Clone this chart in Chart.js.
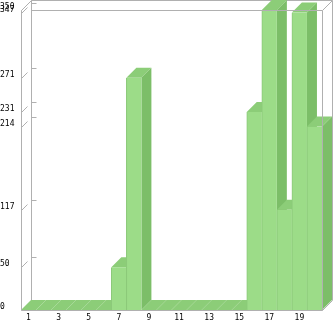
<!DOCTYPE html>
<html>
<head>
<meta charset="utf-8">
<script src="https://cdn.jsdelivr.net/npm/chart.js@4/dist/chart.umd.min.js"></script>
<style>
  html, body { margin: 0; padding: 0; background: #ffffff; }
  #c { display: block; }
</style>
</head>
<body>
<canvas id="c" width="333" height="321"></canvas>
<script>
const categories = ['1','2','3','4','5','6','7','8','9','10','11','12','13','14','15','16','17','18','19','20'];
const values = [0,0,0,0,0,0,50,271,0,0,0,0,0,0,0,231,350,117,347,214];
const yTickValues = [0,50,117,214,231,271,347,350];

const FRONT = '#9cdc88';
const TOP = '#8ccd78';
const SIDE = '#7cbe68';
const EDGE = '#8cc97a';
const FRAME = '#b0b0b0';
const DEPTH = 10;
const FONT = { family: 'DejaVu Sans Mono', size: 8 };

const box3d = {
  id: 'box3d',
  beforeDatasetsDraw(chart) {
    const ctx = chart.ctx, a = chart.chartArea, D = DEPTH;
    const yScale = chart.scales.y;
    ctx.save();
    ctx.strokeStyle = FRAME;
    ctx.lineWidth = 1;
    // back wall
    ctx.beginPath();
    ctx.moveTo(a.left + D + 0.5, a.bottom - D + 0.5);
    ctx.lineTo(a.left + D + 0.5, a.top - D + 0.5);
    ctx.lineTo(a.right + D + 0.5, a.top - D + 0.5);
    ctx.lineTo(a.right + D + 0.5, a.bottom - D + 0.5);
    ctx.stroke();
    // left wall corners
    ctx.beginPath();
    ctx.moveTo(a.left + 0.5, a.top + 0.5);
    ctx.lineTo(a.left + D + 0.5, a.top - D + 0.5);
    ctx.moveTo(a.left + 0.5, a.bottom + 0.5);
    ctx.lineTo(a.left + D + 0.5, a.bottom - D + 0.5);
    ctx.stroke();
    // tick marks
    ctx.beginPath();
    yTickValues.forEach(v => {
      if (v === 0) return;
      const y = Math.round(yScale.getPixelForValue(v));
      ctx.moveTo(a.left + 0.5, y + 0.5);
      ctx.lineTo(a.left + 6.5, y - 5.5);
      ctx.moveTo(a.left + D + 0.5, y - D + 0.5);
      ctx.lineTo(a.left + D + 5.5, y - D + 0.5);
    });
    ctx.stroke();
    // 3D faces of bars (top and side), left to right
    const meta = chart.getDatasetMeta(0);
    meta.data.forEach(el => {
      const x0 = el.x - el.width / 2, x1 = el.x + el.width / 2;
      const yt = el.y, yb = el.base;
      ctx.fillStyle = TOP;
      ctx.beginPath();
      ctx.moveTo(x0, yt);
      ctx.lineTo(x1, yt);
      ctx.lineTo(x1 + D, yt - D);
      ctx.lineTo(x0 + D, yt - D);
      ctx.closePath();
      ctx.fill();
      ctx.fillStyle = SIDE;
      ctx.beginPath();
      ctx.moveTo(x1, yt);
      ctx.lineTo(x1 + D, yt - D);
      ctx.lineTo(x1 + D, yb - D);
      ctx.lineTo(x1, yb);
      ctx.closePath();
      ctx.fill();
    });
    ctx.restore();
  },
  afterDatasetsDraw(chart) {
    const ctx = chart.ctx, a = chart.chartArea, D = DEPTH;
    ctx.save();
    ctx.strokeStyle = FRAME;
    ctx.lineWidth = 1;
    ctx.beginPath();
    ctx.moveTo(a.left + D + 0.5, a.top + 0.5);
    ctx.lineTo(a.right + 0.5, a.top + 0.5);
    ctx.lineTo(a.right + 0.5, a.bottom + 0.5);
    ctx.moveTo(a.left + 0.5, a.top + 0.5);
    ctx.lineTo(a.left + 0.5, a.bottom + 0.5);
    ctx.lineTo(a.right + 0.5, a.bottom + 0.5);
    ctx.moveTo(a.right + 0.5, a.top + 0.5);
    ctx.lineTo(a.right + D + 0.5, a.top - D + 0.5);
    ctx.moveTo(a.right + 0.5, a.bottom + 0.5);
    ctx.lineTo(a.right + D + 0.5, a.bottom - D + 0.5);
    ctx.stroke();
    ctx.restore();
  }
};

new Chart(document.getElementById('c'), {
  type: 'bar',
  data: {
    labels: categories,
    datasets: [{
      data: values,
      backgroundColor: FRONT,
      borderColor: EDGE,
      borderWidth: { left: 1, right: 0, top: 0, bottom: 0 },
      borderSkipped: false,
      categoryPercentage: 1,
      barPercentage: 1
    }]
  },
  plugins: [box3d],
  options: {
    responsive: false,
    animation: false,
    devicePixelRatio: 1,
    layout: { padding: { top: 10, right: 11, left: 0, bottom: 0 } },
    plugins: { legend: { display: false }, tooltip: { enabled: false } },
    scales: {
      x: {
        grid: { display: false, drawTicks: false },
        border: { display: false },
        ticks: {
          autoSkip: false, maxRotation: 0, padding: 3, color: '#000', font: FONT,
          callback: (v, i) => (i % 2 === 0 ? categories[i] : '')
        },
        afterFit: s => { s.height = 11; }
      },
      y: {
        min: 0, max: 350,
        grid: { display: false, drawTicks: false },
        border: { display: false },
        afterBuildTicks: s => { s.ticks = yTickValues.map(v => ({ value: v })); },
        ticks: { crossAlign: 'far', labelOffset: -3, padding: 0, color: '#000', font: FONT,
          callback: v => String(v) },
        afterFit: s => { s.width = 21; }
      }
    }
  }
});
</script>
</body>
</html>
